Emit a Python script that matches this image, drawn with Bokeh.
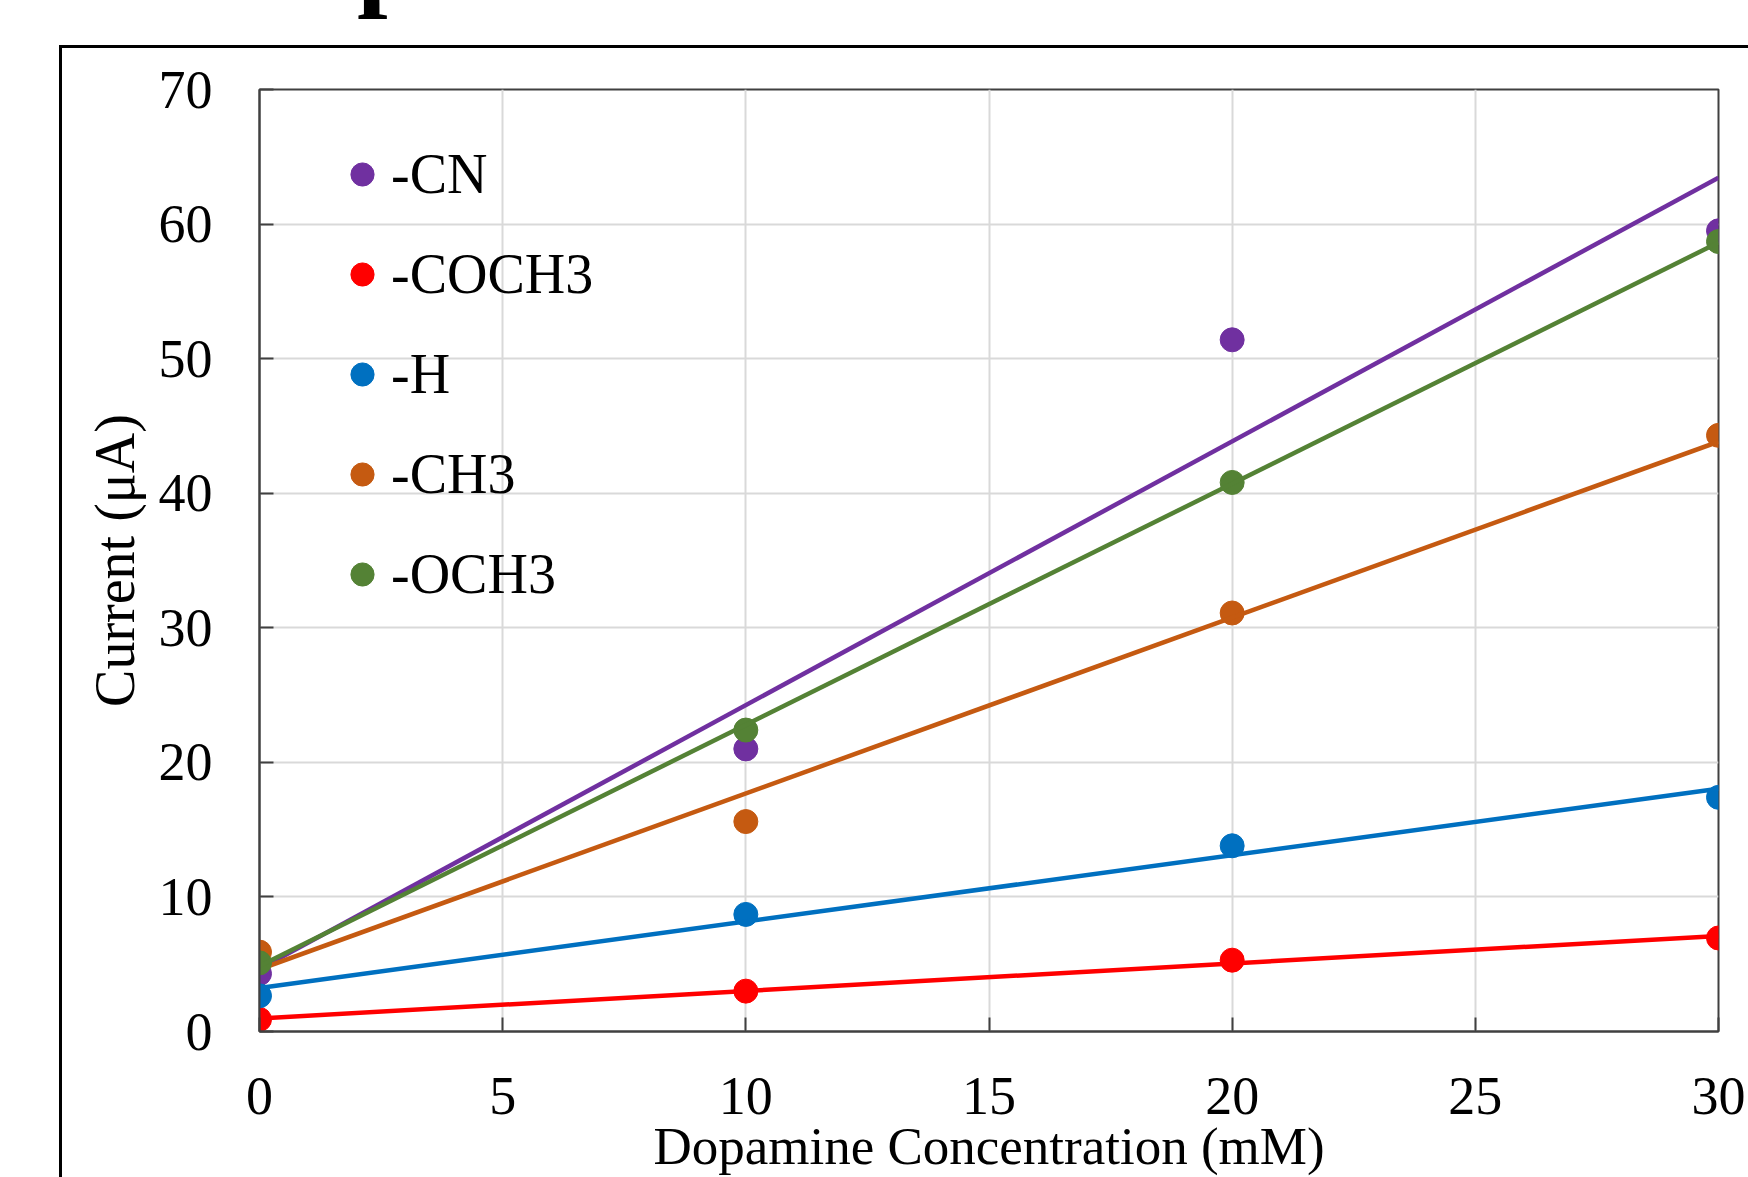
import numpy as np
from bokeh.plotting import figure
from bokeh.models import Range1d, Legend, LegendItem, FixedTicker, InlineStyleSheet
from bokeh.embed import file_html
from bokeh.resources import INLINE

# ---- data ----
concentration = [0, 10, 20, 30]
series_names = ["-CN", "-COCH3", "-H", "-CH3", "-OCH3"]
cn = [4.3, 21.0, 51.4, 59.5]
coch3 = [0.9, 3.0, 5.3, 6.95]
h = [2.65, 8.7, 13.8, 17.4]
ch3 = [5.9, 15.6, 31.1, 44.3]
och3 = [5.1, 22.4, 40.8, 58.7]
colors = ["#7030A0", "#FF0000", "#0070C0", "#C55A11", "#548235"]
x_ticks = [0, 5, 10, 15, 20, 25, 30]
y_ticks = [0, 10, 20, 30, 40, 50, 60, 70]
x_title = "Dopamine Concentration (mM)"
y_title = "Current (μA)"

FONT = "Liberation Serif"

p = figure(width=1748, height=1177, output_backend="svg", toolbar_location=None,
           x_range=Range1d(0, 30), y_range=Range1d(0, 70),
           min_border_left=259, min_border_right=30, min_border_top=89, min_border_bottom=145)
p.background_fill_color = "white"
p.border_fill_color = "white"
p.outline_line_color = "#404040"
p.outline_line_width = 2

for ax in (p.xaxis[0], p.yaxis[0]):
    ax.major_label_text_font = FONT
    ax.major_label_text_font_size = "54px"
    ax.major_label_text_color = "black"
    ax.axis_line_color = "#404040"
    ax.axis_line_width = 2
    ax.major_tick_line_color = "#404040"
    ax.major_tick_line_width = 2
    ax.major_tick_in = 14
    ax.major_tick_out = 0
    ax.minor_tick_line_color = None
    ax.axis_label_text_font = FONT
    ax.axis_label_text_font_style = "normal"
    ax.axis_label_text_color = "black"
p.xaxis.ticker = FixedTicker(ticks=x_ticks)
p.yaxis.ticker = FixedTicker(ticks=y_ticks)
p.xaxis.major_label_standoff = 46
p.yaxis.major_label_standoff = 47
p.yaxis.axis_label = y_title
p.yaxis.axis_label_text_font_size = "56px"
p.yaxis.axis_label_standoff = 10
p.xaxis.axis_label = x_title
p.xaxis.axis_label_text_font_size = "53px"
p.xaxis.axis_label_standoff = 0

p.xgrid.ticker = FixedTicker(ticks=x_ticks)
p.ygrid.ticker = FixedTicker(ticks=y_ticks)
p.grid.grid_line_color = "#D9D9D9"
p.grid.grid_line_width = 2

series = [cn, coch3, h, ch3, och3]
items = []
xs = np.array(concentration, dtype=float)
x_line = np.array([p.x_range.start, p.x_range.end])
for name, ys, c in zip(series_names, series, colors):
    r = p.scatter(concentration, ys, size=24, color=c, line_color=c)
    slope, icpt = np.polyfit(xs, np.array(ys, dtype=float), 1)
    p.line(x_line, slope * x_line + icpt, line_color=c, line_width=4.5)
    items.append(LegendItem(label=name, renderers=[r]))

legend = Legend(items=items, location=(74, 425), orientation="vertical",
                label_text_font=FONT, label_text_font_size="56px", label_text_color="black",
                glyph_width=58, glyph_height=60, label_standoff=0,
                spacing=36, padding=0, margin=0,
                background_fill_alpha=0, border_line_alpha=0)
p.add_layout(legend)

# outer chart-area border (left and top edges visible) and the cut-off heading glyph above it
p.stylesheets = [InlineStyleSheet(css="""
:host { position: relative; }
:host::after { content: ""; position: absolute; left: 59px; top: 45px; right: 0; bottom: 0;
  border-left: 3px solid black; border-top: 3px solid black; pointer-events: none; z-index: 10; }
:host::before { content: "p"; position: absolute; left: 357px; top: -96px;
  font-family: 'Liberation Serif'; font-weight: bold; font-size: 110px; line-height: 110px;
  color: black; pointer-events: none; z-index: 10; }
""")]

open("out.html", "w").write(file_html(p, INLINE))
